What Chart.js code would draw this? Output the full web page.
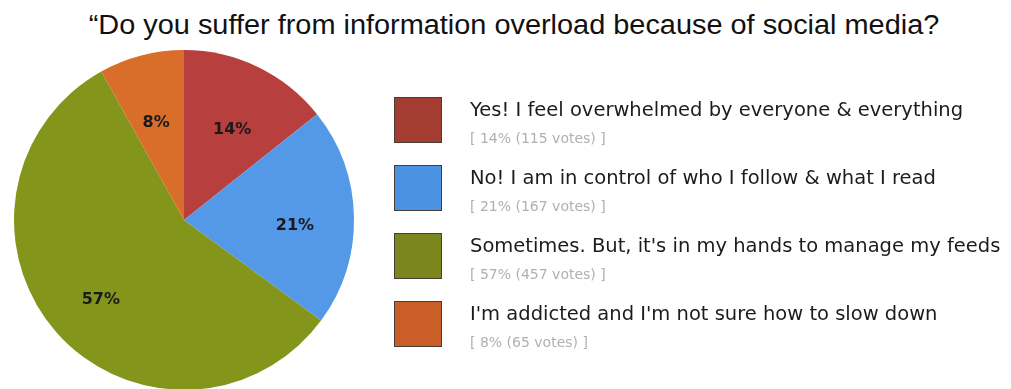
<!DOCTYPE html>
<html>
<head>
<meta charset="utf-8">
<script src="https://cdn.jsdelivr.net/npm/chart.js@4.4.1/dist/chart.umd.min.js"></script>
<style>
  html, body { margin: 0; padding: 0; background: #fff; overflow: hidden; }
  body { width: 1011px; height: 389px; position: relative; }
  #title {
    position: absolute; left: 0; top: 12px; width: 1028px; text-align: center;
    font-family: "Liberation Sans", Arial, sans-serif; font-size: 27px; line-height: 27px; color: #111;
    white-space: nowrap; transform: scaleX(1.07); transform-origin: 514px 0;
  }
  #wrap { position: absolute; left: 0; top: 0; width: 1011px; height: 420px; }
  #legend { position: absolute; left: 394px; top: 97px; }
  .row { position: relative; height: 68px; }
  .box { position: absolute; left: 0; top: 0; width: 46px; height: 44px; border: 1px solid #4a3d35; }
  .main { position: absolute; left: 76px; top: 1px; white-space: nowrap;
    font-family: "DejaVu Sans", sans-serif; font-size: 19.5px; color: #1c1c1c; }
  .sub { position: absolute; left: 76px; top: 33px; white-space: nowrap;
    font-family: "DejaVu Sans", sans-serif; font-size: 14px; color: #b0b0b0; }
</style>
</head>
<body>
<div id="title">“Do you suffer from information overload because of social media?</div>
<div id="wrap"><canvas id="pie"></canvas></div>
<div id="legend"></div>
<script>
let answers = [
      "Yes! I feel overwhelmed by everyone & everything",
      "No! I am in control of who I follow & what I read",
      "Sometimes. But, it's in my hands to manage my feeds",
      "I'm addicted and I'm not sure how to slow down"
    ],
    votes = [115, 167, 457, 65],
    percents = [14, 21, 57, 8],
    sliceColors = ["#b73f3e", "#5399e7", "#83951b", "#d96e2b"],
    boxColors = ["#a33c31", "#4b93e2", "#7b861c", "#c95f26"]

// legend on the right, built from the same arrays
let legend = document.querySelector("#legend")
answers.forEach((a, i) => {
    let row = document.createElement("div")
    row.className = "row"
    row.innerHTML = `<div class="box" style="background:${boxColors[i]}"></div>` +
        `<div class="main"></div><div class="sub">[ ${percents[i]}% (${votes[i]} votes) ]</div>`
    row.querySelector(".main").textContent = a
    legend.appendChild(row)
})

// percent labels inside the slices
let sliceLabels = {
    id: "sliceLabels",
    afterDatasetsDraw(chart) {
        let ctx = chart.ctx
        let meta = chart.getDatasetMeta(0)
        ctx.save()
        ctx.font = "bold 16px 'DejaVu Sans', sans-serif"
        ctx.fillStyle = "#1a1a1a"
        ctx.textAlign = "center"
        ctx.textBaseline = "middle"
        meta.data.forEach((arc, i) => {
            let mid = (arc.startAngle + arc.endAngle) / 2
            let r = arc.outerRadius * 0.64
            ctx.fillText(percents[i] + "%", arc.x + Math.cos(mid) * r * 1.02, arc.y + Math.sin(mid) * r + 8)
        })
        ctx.restore()
    }
}

let myChart = new Chart(document.querySelector("#pie"), {
    type: "pie",
    plugins: [sliceLabels],
    data: {
        labels: answers,
        datasets: [{
            data: votes,
            backgroundColor: sliceColors,
            borderWidth: 0
        }]
    },
    options: {
        responsive: true,
        maintainAspectRatio: false,
        animation: false,
        layout: { padding: { left: 14, top: 50, right: 657, bottom: 30 } },
        plugins: {
            legend: { display: false },
            tooltip: { enabled: false }
        }
    }
})
</script>
</body>
</html>
